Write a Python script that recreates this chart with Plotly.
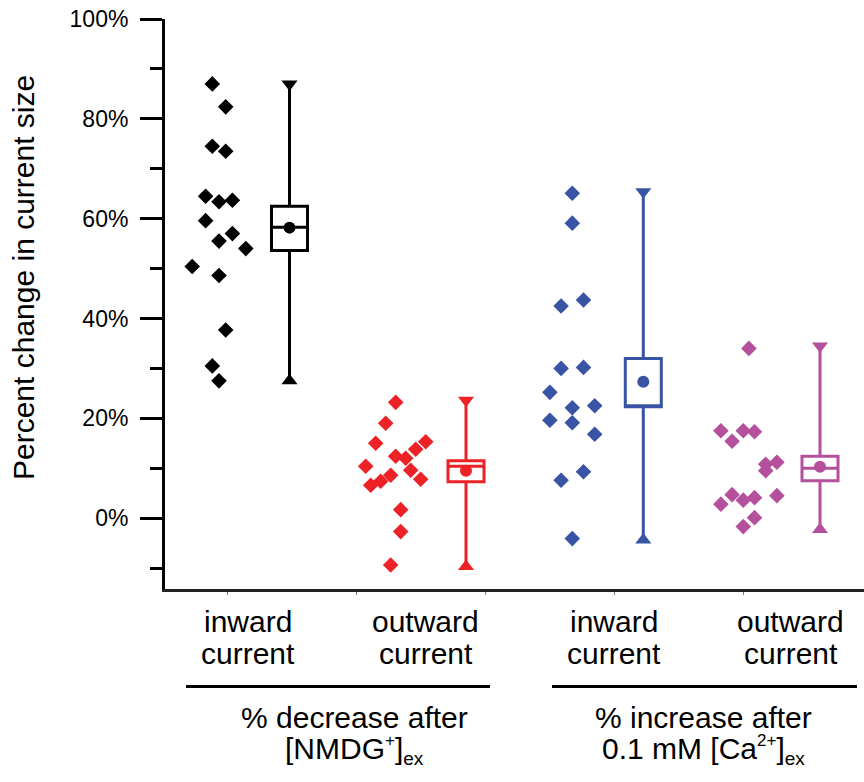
import plotly.graph_objects as go

# ---------------- data ----------------
groups = ["NMDG inward", "NMDG outward", "Ca inward", "Ca outward"]
colors = ["#000000", "#EC2227", "#3954A4", "#B5509D"]

nmdg_inward = [87.0, 82.4, 74.5, 73.5, 64.5, 63.4, 63.7, 59.6, 57.0, 55.5, 54.0, 50.4, 48.6, 37.7, 30.5, 27.5]
nmdg_outward = [23.2, 19.0, 15.0, 15.3, 13.8, 12.4, 12.0, 10.4, 9.6, 8.6, 7.4, 6.6, 7.8, 1.7, -2.7, -9.4]
ca_inward = [65.1, 59.1, 43.7, 42.5, 30.0, 30.2, 25.2, 22.1, 22.5, 19.6, 19.1, 16.8, 9.3, 7.6, -4.1]
ca_outward = [34.0, 17.5, 17.5, 17.3, 15.4, 11.2, 10.8, 9.5, 4.7, 3.6, 4.1, 4.5, 2.8, 0.1, -1.7]

# jitter slot of each point (column index in the dot cloud)
nmdg_inward_slot = [-1, 1, -1, 1, -2, 0, 2, -2, 2, 0, 4, -4, 0, 1, -1, 0]
nmdg_outward_slot = [0, -2, -4, 6, 4, 0, 2, -6, 3, -1, -3, -5, 5, 1, 1, -1]
ca_inward_slot = [0, 0, 1, -1, -1, 1, -2, 0, 2, -2, 0, 2, 1, -1, 0]
ca_outward_slot = [0.5, -2, 0, 1, -1, 3, 2, 2, -1, 0, 1, 3, -2, 1, 0]

# summary stats (box = mean +/- SEM, line = median, dot = mean, whiskers = min/max)
means = [58.2, 9.5, 27.3, 10.3]
medians = [58.3, 10.4, 22.3, 10.0]
box_low = [53.6, 7.3, 22.3, 7.5]
box_high = [62.5, 11.5, 32.0, 12.4]
mins = [27.5, -9.7, -4.4, -2.3]
maxs = [87.0, 23.6, 65.4, 34.5]

y_tickvals = [0, 20, 40, 60, 80, 100]
y_ticktext = ["0%", "20%", "40%", "60%", "80%", "100%"]

cat_line1 = ["inward", "outward", "inward", "outward"]
cat_line2 = ["current", "current", "current", "current"]
cond_line1 = ["% decrease after", "% increase after"]
cond_line2 = ["[NMDG<sup><span style='font-size:17px'>+</span></sup>]<sub><span style='font-size:19px'>ex</span></sub>",
              "0.1 mM [Ca<sup><span style='font-size:17px'>2+</span></sup>]<sub><span style='font-size:19px'>ex</span></sub>"]

# ---------------- layout geometry (x axis in pixel-like units) ----------------
point_centers = [219, 395.7, 572.3, 743.3]
jitter_steps = [6.7, 5.0, 11.2, 11.2]
box_centers = [289.5, 466, 643.3, 820]
label_centers = [248, 425.6, 614, 790.5]
cond_spans = [(186, 490), (552, 857)]
cond_text_centers = [354, 703]

W, H = 864, 782
L, R, T, B = 165, 0, 19, 193
PW, PH = W - L - R, H - T - B
FONT = "Arial, Liberation Sans, sans-serif"
TXT = 30


def px_x(px):
    return (px - L) / PW


def px_y(py):
    return (H - B - py) / PH


values = [nmdg_inward, nmdg_outward, ca_inward, ca_outward]
slots = [nmdg_inward_slot, nmdg_outward_slot, ca_inward_slot, ca_outward_slot]

fig = go.Figure()

for i in range(4):
    c = colors[i]
    fig.add_trace(go.Box(
        x=[box_centers[i]], q1=[box_low[i]], median=[medians[i]], q3=[box_high[i]],
        lowerfence=[mins[i]], upperfence=[maxs[i]], width=36,
        line=dict(color=c, width=3), fillcolor="white", whiskerwidth=0,
        boxpoints=False, showlegend=False, hoverinfo="skip",
    ))
    xs = [point_centers[i] + s * jitter_steps[i] for s in slots[i]]
    fig.add_trace(go.Scatter(
        x=xs, y=values[i], mode="markers",
        marker=dict(symbol="diamond", size=12, color=c, line=dict(width=0)),
        showlegend=False, cliponaxis=False,
    ))
    fig.add_trace(go.Scatter(
        x=[box_centers[i]], y=[means[i]], mode="markers",
        marker=dict(symbol="circle", size=12, color=c), showlegend=False,
    ))
    fig.add_trace(go.Scatter(
        x=[box_centers[i], box_centers[i]], y=[maxs[i], mins[i]], mode="markers",
        marker=dict(symbol=["triangle-down", "triangle-up"], size=14, color=c),
        showlegend=False, cliponaxis=False,
    ))

annotations = []
for i in range(4):
    annotations.append(dict(x=px_x(label_centers[i]), y=px_y(621), xref="paper", yref="paper",
                            text=cat_line1[i], showarrow=False, xanchor="center", yanchor="middle",
                            font=dict(size=TXT, color="black", family=FONT)))
    annotations.append(dict(x=px_x(label_centers[i]), y=px_y(653), xref="paper", yref="paper",
                            text=cat_line2[i], showarrow=False, xanchor="center", yanchor="middle",
                            font=dict(size=TXT, color="black", family=FONT)))

shapes = []
for j, (a, b) in enumerate(cond_spans):
    cx = cond_text_centers[j]
    shapes.append(dict(type="line", xref="paper", yref="paper", x0=px_x(a), x1=px_x(b),
                       y0=px_y(686.5), y1=px_y(686.5), line=dict(color="black", width=3)))
    annotations.append(dict(x=px_x(cx), y=px_y(717), xref="paper", yref="paper",
                            text=cond_line1[j], showarrow=False, xanchor="center", yanchor="middle",
                            font=dict(size=TXT, color="black", family=FONT)))
    annotations.append(dict(x=px_x(cx), y=px_y(750), xref="paper", yref="paper",
                            text=cond_line2[j], showarrow=False, xanchor="center", yanchor="middle",
                            font=dict(size=TXT, color="black", family=FONT)))

annotations.append(dict(x=px_x(23), y=px_y(278), xref="paper", yref="paper",
                        text="Percent change in current size", textangle=-90, showarrow=False,
                        xanchor="center", yanchor="middle",
                        font=dict(size=TXT, color="black", family=FONT)))

fig.update_layout(
    width=W, height=H, margin=dict(l=L, r=R, t=T, b=B, pad=0),
    plot_bgcolor="white", paper_bgcolor="white", showlegend=False,
    font=dict(family=FONT, color="black"),
    annotations=annotations, shapes=shapes,
    xaxis=dict(range=[L, W], showgrid=False, zeroline=False, showline=True,
               linecolor="#222222", linewidth=3, ticks="outside", ticklen=3, tickwidth=1,
               tickcolor="#777777", tick0=227, dtick=129, showticklabels=False, fixedrange=True),
    yaxis=dict(range=[-14.2, 100], showgrid=False, zeroline=False, showline=True,
               linecolor="black", linewidth=3, ticks="outside", ticklen=22, tickwidth=3,
               tickcolor="black", tickvals=y_tickvals, ticktext=y_ticktext,
               tickfont=dict(size=23, color="black", family=FONT), ticklabelstandoff=7,
               minor=dict(ticks="outside", ticklen=12, tickwidth=3, tickcolor="black",
                          tickvals=[-10, 10, 30, 50, 70, 90], showgrid=False)),
)

fig.write_html("out.html", config={"displayModeBar": False},
               post_script="document.body.style.margin='0';document.body.style.overflow='hidden';")
